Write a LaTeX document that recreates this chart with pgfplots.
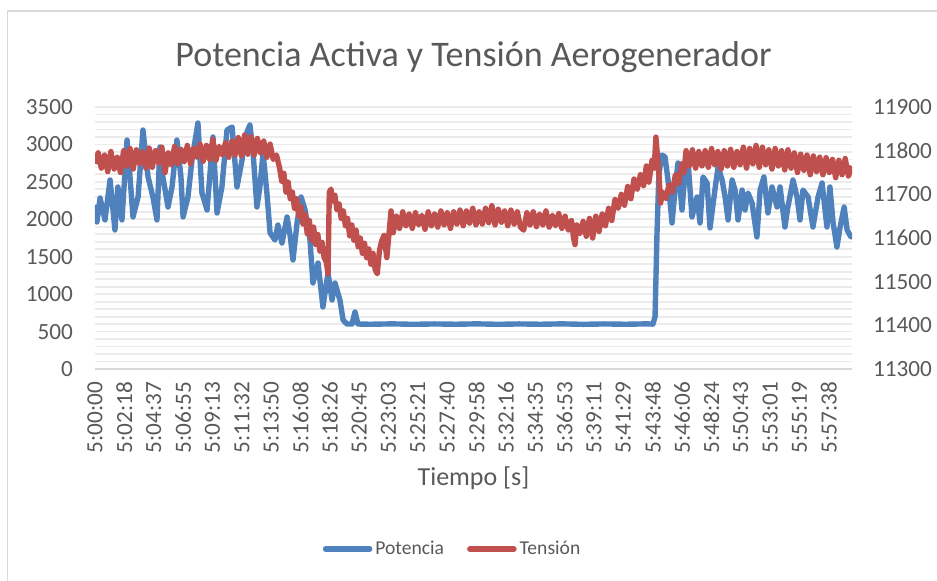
\documentclass[border=0pt]{standalone}
\usepackage{pgfplots}
\pgfplotsset{compat=1.18}
\usepackage{fontspec}
\setmainfont{Carlito}
\definecolor{potblue}{HTML}{4F81BD}
\definecolor{tenred}{HTML}{C0504D}
\definecolor{txtgray}{HTML}{595959}
\definecolor{gridc}{HTML}{EBEBEB}
\definecolor{axc}{HTML}{D9D9D9}

% time in seconds after 5:00:00
\pgfplotstableread{
t p
0 2191
9 1964
24 2285
47 1991
71 2525
94 1857
108 2432
127 1991
151 3059
165 2565
179 2031
203 2298
226 3193
250 2565
273 2298
292 1991
306 2966
320 2565
344 2164
363 2432
386 3059
405 2565
415 2031
438 2298
457 2792
485 3287
504 2351
528 2124
556 3100
575 2084
598 2432
622 3193
646 3233
669 2432
693 2792
707 3100
730 3260
745 2886
763 2164
777 2432
792 2886
810 2351
825 1817
848 1723
862 1924
881 1683
905 2031
919 1790
933 1456
952 1951
971 2298
990 2124
1013 1723
1027 1149
1051 1416
1074 828
1098 1283
1117 922
1131 1149
1154 922
1169 655
1187 601
1211 601
1225 762
1239 601
1300 598
1400 603
1500 597
1600 602
1700 598
1800 603
1900 597
2000 602
2100 598
2200 603
2300 597
2400 602
2500 598
2600 603
2629 600
2639 700
2648 1800
2657 2600
2672 2859
2686 2832
2700 2525
2719 1951
2733 2391
2747 2752
2766 2124
2780 2619
2794 2792
2813 2031
2837 2298
2851 1951
2865 2565
2884 2485
2898 1884
2921 2391
2936 2699
2955 2525
2969 2298
2983 1991
3002 2525
3016 2391
3030 1991
3049 2391
3063 2124
3077 2351
3096 2218
3119 1764
3134 2391
3152 2565
3171 2084
3190 2432
3214 2164
3228 2432
3251 1897
3265 2164
3289 2525
3308 2298
3322 1991
3336 2391
3360 2298
3383 1897
3407 2298
3426 2485
3449 1897
3463 2432
3478 1951
3496 1630
3511 1897
3530 2164
3544 1857
3562 1764
3567 1817
}\potencia

\pgfplotstableread{
t v
0 11770
15 11795
30 11760
45 11790
60 11752
75 11798
90 11758
105 11785
120 11750
135 11800
150 11765
165 11805
180 11758
195 11802
210 11770
225 11797
240 11760
255 11806
270 11762
285 11800
300 11772
315 11808
330 11750
345 11795
360 11768
375 11810
390 11770
405 11803
420 11775
435 11812
450 11770
465 11806
480 11785
495 11815
510 11776
525 11812
540 11780
555 11826
570 11778
585 11810
600 11790
615 11818
630 11785
645 11822
660 11790
675 11830
690 11788
705 11836
720 11792
735 11832
750 11790
765 11828
780 11795
795 11822
810 11785
825 11815
840 11780
855 11790
870 11760
880 11730
890 11748
900 11705
910 11728
920 11690
930 11705
940 11668
950 11690
960 11650
970 11672
980 11632
990 11655
1000 11610
1010 11640
1020 11595
1030 11625
1040 11585
1050 11608
1060 11570
1070 11590
1080 11555
1090 11545
1098 11518
1104 11705
1112 11712
1120 11685
1130 11698
1140 11665
1150 11678
1160 11645
1170 11662
1180 11628
1190 11645
1200 11605
1210 11630
1220 11595
1230 11618
1240 11580
1250 11600
1260 11565
1270 11588
1280 11555
1290 11575
1300 11540
1310 11565
1320 11528
1330 11518
1340 11570
1350 11592
1362 11606
1375 11555
1385 11608
1395 11662
1405 11612
1420 11650
1435 11622
1450 11660
1465 11628
1480 11655
1495 11622
1510 11658
1525 11630
1540 11652
1555 11620
1570 11660
1585 11628
1600 11655
1615 11625
1630 11662
1645 11630
1660 11658
1675 11622
1690 11660
1705 11632
1720 11664
1735 11628
1750 11662
1765 11634
1780 11668
1795 11630
1810 11660
1825 11632
1840 11668
1855 11635
1870 11674
1885 11630
1900 11666
1915 11636
1930 11662
1945 11628
1960 11664
1975 11632
1990 11660
2005 11625
2020 11618
2035 11658
2050 11630
2065 11660
2080 11626
2095 11655
2110 11630
2125 11662
2140 11625
2155 11652
2170 11628
2185 11656
2200 11622
2215 11650
2230 11618
2245 11640
2255 11600
2262 11585
2270 11630
2285 11610
2300 11638
2315 11604
2330 11645
2345 11600
2360 11650
2375 11615
2390 11655
2405 11628
2420 11668
2435 11640
2450 11688
2465 11668
2480 11700
2495 11675
2510 11718
2525 11690
2540 11735
2555 11712
2570 11745
2585 11720
2598 11765
2610 11728
2625 11778
2635 11760
2643 11831
2650 11790
2658 11740
2665 11680
2675 11705
2690 11690
2705 11722
2720 11705
2735 11745
2750 11725
2765 11770
2775 11750
2785 11800
2800 11765
2815 11802
2830 11760
2845 11798
2860 11765
2875 11800
2890 11762
2905 11805
2920 11768
2935 11798
2950 11758
2965 11800
2980 11765
2995 11803
3010 11762
3025 11798
3040 11768
3055 11808
3070 11760
3085 11805
3100 11770
3115 11812
3130 11762
3145 11808
3160 11768
3175 11802
3190 11758
3205 11805
3220 11765
3235 11800
3250 11756
3265 11802
3280 11760
3295 11795
3310 11750
3325 11792
3340 11755
3355 11790
3370 11745
3385 11788
3400 11752
3415 11785
3430 11745
3445 11784
3460 11750
3475 11780
3490 11738
3505 11778
3520 11745
3535 11782
3550 11742
3567 11765
}\tension

\pgfplotsset{
  base/.style={
    scale only axis, width=378.5pt, height=131pt,
    xmin=0, xmax=3567,
    major tick length=0pt, minor tick length=0pt,
    tick label style={text=txtgray, font=\fontsize{11.6}{13}\selectfont},
    /pgf/number format/assume math mode=true,
    /pgf/number format/1000 sep={},
    scaled y ticks=false,
  },
}

\begin{document}
\begin{tikzpicture}
\useasboundingbox (-47.5pt,-105.5pt) rectangle (421pt,184.5pt);
\draw[axc, line width=0.8pt] (-43.75pt,-106pt) -- (-43.75pt,179pt) -- (422pt,179pt);
\begin{axis}[base,
  ymin=0, ymax=3500,
  axis x line*=bottom, axis y line*=left,
  x axis line style={axc, line width=1pt},
  y axis line style={draw=none},
  ytick={0,500,...,3500},
  minor ytick={100,200,...,3400},
  ymajorgrids, yminorgrids,
  major grid style={gridc, line width=0.9pt},
  minor grid style={gridc, line width=0.9pt},
  yticklabel shift=7.5pt,
  xtick={0,138,277,415,553,692,830,968,1106,1245,1383,1521,1660,1798,1936,2075,2213,2351,2489,2628,2766,2904,3043,3181,3319,3458},
  xticklabels={5:00:00,5:02:18,5:04:37,5:06:55,5:09:13,5:11:32,5:13:50,5:16:08,5:18:26,5:20:45,5:23:03,5:25:21,5:27:40,5:29:58,5:32:16,5:34:35,5:36:53,5:39:11,5:41:29,5:43:48,5:46:06,5:48:24,5:50:43,5:53:01,5:55:19,5:57:38},
  x tick label style={rotate=90, anchor=east},
  xticklabel shift=3pt,
  xlabel={Tiempo [s]},
  xlabel style={at={(axis description cs:0.5,0)}, anchor=center, yshift=-54.5pt,
                text=txtgray, font=\fontsize{13}{15}\selectfont},
  title={Potencia Activa y Tensión Aerogenerador},
  title style={at={(axis description cs:0.5,1)}, anchor=center, yshift=19pt,
               text=txtgray, font=\fontsize{18}{21}\selectfont},
  legend style={at={(axis description cs:0.473,0)}, anchor=center, yshift=-90pt,
                draw=none, fill=none, legend columns=2,
                font=\fontsize{9.8}{12}\selectfont, text=txtgray,
                nodes={inner xsep=1.5pt},
                /tikz/every even column/.append style={column sep=10pt}},
  legend image code/.code={\draw[#1, line width=2.8pt, line cap=round] (0pt,0pt) -- (22pt,0pt);},
]
\addplot[potblue, line width=2.7pt, line join=round] table[x=t, y=p] {\potencia};
\addlegendentry{Potencia}
\addlegendimage{tenred}
\addlegendentry{Tensión}
\end{axis}
\begin{axis}[base,
  ymin=11300, ymax=11900,
  axis y line*=right, axis x line=none,
  y axis line style={draw=none},
  ytick={11300,11400,...,11900},
  yticklabel shift=7pt,
]
\addplot[tenred, line width=2.7pt, line join=round] table[x=t, y=v] {\tension};
\end{axis}
\end{tikzpicture}
\end{document}
